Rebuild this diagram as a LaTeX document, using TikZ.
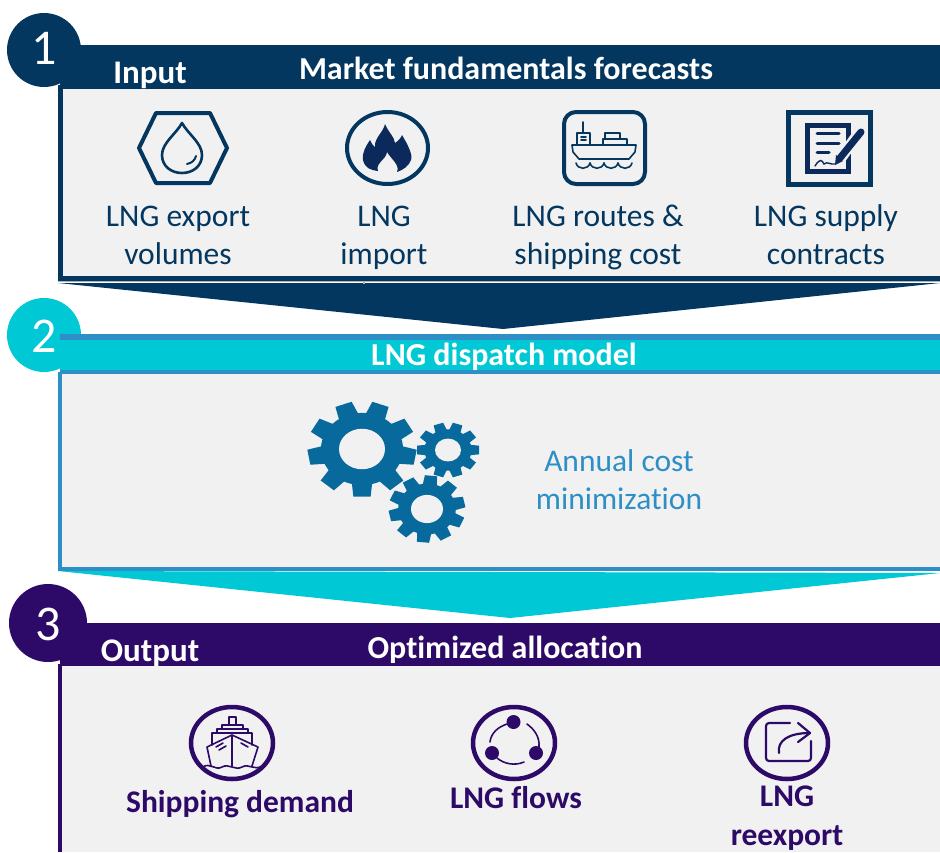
\documentclass[tikz,border=0pt]{standalone}
\usepackage{fontspec}
\setmainfont{Carlito}[Ligatures=NoCommon]
\usepackage{tikz}
\usetikzlibrary{calc, positioning}
\definecolor{navyband}{HTML}{03375F}
\definecolor{flamedark}{HTML}{0B2A5B}
\definecolor{tealband}{HTML}{00C8D4}
\definecolor{blueline}{HTML}{2E8FC6}
\definecolor{gearblue}{HTML}{086A9C}
\definecolor{purpleband}{HTML}{2E0A68}
\definecolor{panelgray}{HTML}{F1F1F1}
% gear: x, y, radius, teeth, start angle, hole radius
\newcommand{\gearicon}[6]{
  \begin{scope}[shift={(#1,#2)}, yscale=0.88]
    \fill[gearblue] (0,0) circle (#3*0.76);
    \foreach \k in {1,...,#4} {
      \fill[gearblue, rotate=#5+\k*360/#4]
        (#3*0.7,-#3*0.19) -- (#3,-#3*0.16) -- (#3,#3*0.16) -- (#3*0.7,#3*0.19) -- cycle;
    }
    \fill[panelgray] (0,0) circle (#6);
  \end{scope}
}
\begin{document}
\begin{tikzpicture}[
    x=1pt, y=-1pt,
    headtext/.style={text=white, font=\fontsize{32}{36}\selectfont\bfseries, inner sep=0pt},
    sidetext/.style={text=white, font=\fontsize{33}{36}\selectfont\bfseries, inner sep=0pt},
    numtext/.style={text=white, font=\fontsize{50}{52}\selectfont, inner sep=0pt},
    inlabel/.style={text=navyband, align=center, inner sep=0pt, font=\fontsize{31.5}{38.5}\selectfont},
    midlabel/.style={text=blueline, align=center, inner sep=0pt, font=\fontsize{31.5}{38.5}\selectfont},
    outlabel/.style={text=purpleband, align=center, inner sep=0pt, font=\fontsize{31.5}{39}\selectfont\bfseries},
    navyicon/.style={draw=navyband, line width=4pt, line join=round},
    purpleicon/.style={draw=purpleband, line width=4.5pt},
    finepurple/.style={draw=purpleband, line width=1.6pt, line cap=round, line join=round}
]
\useasboundingbox (0,0) rectangle (940,852);

% Input band
\fill[panelgray] (60,89) rectangle (940,278);
\fill[navyband] (60,45) rectangle (940,89);
\fill[navyband] (44,50) circle (37);
\draw[navyband, line width=5pt] (60,85) -- (60,278.5) -- (940,278.5);
\fill[navyband] (58,283) -- (503,329) -- (940,283) -- cycle;
\draw[gray!60, line width=1.5pt] (58,281.5) -- (940,281.5) (364,281) -- (364,284);

% Dispatch band
\fill[panelgray] (60,372) rectangle (940,570);
\fill[tealband] (44,335) circle (37);
\fill[tealband] (60,334) rectangle (940,370);
\fill[blueline] (60,334) rectangle (940,340);
\draw[blueline, line width=4pt] (60,372) -- (60,569) -- (940,569) (60,372) -- (940,372);
\fill[tealband] (58,571) -- (510,618) -- (940,573) -- cycle;

% Output band
\fill[panelgray] (60,666) rectangle (940,852);
\fill[purpleband] (60,623) rectangle (940,666);
\fill[purpleband] (48,623) circle (39);
\draw[purpleband, line width=4pt] (60,664) -- (60,852);

% Nodes
\node[numtext] (one) at (44,48) {1};
\node[numtext] (two) at (44,336) {2};
\node[numtext] (three) at (48,624) {3};
\node[sidetext] (input) at (150,75) {Input};
\node[headtext] (market) at (506,68) {Market fundamentals forecasts};
\node[headtext] (dispatch) at (504,357) {LNG dispatch model};
\node[sidetext] (output) at (150,653) {Output};
\node[headtext] (alloc) at (505,649.5) {Optimized allocation};
\node[inlabel] (export) at (178,238) {LNG export\strut\\volumes\strut};
\node[inlabel] (import) at (384,238) {LNG\strut\\import\strut};
\node[inlabel] (routes) at (598,238) {LNG routes \&\strut\\shipping cost\strut};
\node[inlabel] (supply) at (826,238) {LNG supply\strut\\contracts\strut};
\node[midlabel] (annual) at (619,483) {Annual cost\strut\\minimization\strut};
\node[outlabel] (shipping) at (240,804) {Shipping demand};
\node[outlabel] (flows) at (516,798) {LNG flows};
\node[outlabel] (reexport) at (787,818) {LNG\strut\\reexport\strut};

% Hexagon and drop
\draw[navyicon] (139,148) -- (156,113) -- (210,113) -- (227,148) -- (210,183) -- (156,183) -- cycle;
\draw[navyband, line width=2.6pt, line join=round] (182,123)
  .. controls (176,134) and (162,143) .. (162,155)
  .. controls (162,166) and (171,173) .. (182,173)
  .. controls (193,173) and (202,166) .. (202,155)
  .. controls (202,143) and (188,134) .. cycle;
\draw[navyband, line width=2pt, line cap=round] (187,164) .. controls (192,163) and (195,160) .. (196,156);

% Flame
\draw[navyicon] (387.5,148) circle [x radius=40.5, y radius=36];
\fill[flamedark] (385,124) .. controls (390,135) and (394,136) .. (395,143)
  .. controls (398,141) and (401,138) .. (402,135)
  .. controls (408,145) and (413,155) .. (411,160)
  .. controls (409,166) and (403,170) .. (397,172)
  .. controls (400,165) and (392,160) .. (387,152)
  .. controls (386,160) and (375,163) .. (378,171)
  .. controls (370,170) and (365,168) .. (363,160)
  .. controls (362,152) and (366,146) .. (370,140)
  .. controls (372,144) and (373,146) .. (375,147)
  .. controls (374,138) and (383,133) .. (385,124) -- cycle;

% Cargo ship
\draw[navyicon, rounded corners=12pt] (564,112) rectangle (645,184);
\begin{scope}[navyband, line width=1.6pt, line join=round, line cap=round]
  \draw (572,145) -- (636,145) -- (635,152) -- (629,159) -- (579,159) -- (573,152) -- cycle;
  \draw (577,145) -- (577,133) -- (590,133) -- (590,145);
  \draw (583,122) -- (583,133);
  \draw (581,137) -- (586,137) (581,140) -- (586,140);
  \draw (603,145) -- (603,139) -- (627,139) -- (627,145);
  \draw (605,139) -- (605,133) -- (620,133) -- (620,139);
  \foreach \w in {576,590,604,618} {
    \draw (\w,163) .. controls (\w+2,170) and (\w+12,170) .. (\w+14,163);
  }
\end{scope}

% Contract
\draw[navyicon, line width=5pt, line join=miter] (788,112) rectangle (870,184);
\fill[flamedark] (805,123) rectangle (851,174);
\fill[panelgray] (810,128) rectangle (846,169);
\draw[flamedark, line width=3pt, line cap=round] (817,133) -- (839,133) (817,143) -- (839,143) (817,152) -- (829,152);
\draw[panelgray, line width=11pt] (861,130) -- (838,162);
\draw[flamedark, line width=7pt, line cap=round] (861,132) -- (840,158);
\fill[flamedark] (836,155) -- (843,161) -- (835,165) -- cycle;
\draw[flamedark, line width=1.4pt, line cap=round] (815,166) .. controls (820,158) and (822,160) .. (824,164) .. controls (827,161) and (831,165) .. (835,164);

% Gears
\gearicon{362}{449}{54}{9}{-90}{23}
\gearicon{448}{450}{31}{10}{-72}{13}
\gearicon{427}{509}{38}{10}{-96}{16}

% Front view ship
\draw[purpleicon] (232,743) circle [x radius=41, y radius=36];
\begin{scope}[finepurple]
  \draw (229,725) -- (229,717) -- (236,717) -- (236,725);
  \draw (222,729) -- (222,725) -- (243,725) -- (243,729);
  \draw (217,733) -- (217,729) -- (248,729) -- (248,733);
  \draw (212,745) -- (212,733) -- (252,733) -- (252,745);
  \draw (232,735) -- (207,747) -- (211,766) (232,735) -- (258,747) -- (252,766) (232,735) -- (232,766);
  \draw (216,747) -- (223,743) (219,750) -- (226,746) (248,747) -- (241,743);
  \draw (203,767) .. controls (210,762) and (215,771) .. (222,767) .. controls (229,763) and (235,771) .. (242,767) .. controls (249,763) and (254,771) .. (262,766);
\end{scope}

% Network
\draw[purpleicon] (514,743) circle [x radius=41, y radius=36];
\fill[purpleband] (513.5,722) circle (7) (492,753) circle (7) (536,753) circle (7);
\begin{scope}[finepurple]
  \draw (507,724) .. controls (498,727) and (491,733) .. (490,742);
  \draw (527,724) .. controls (534,729) and (540,737) .. (539,747);
  \draw (497,758) .. controls (504,764) and (515,766) .. (524,762);
\end{scope}

% Re-export
\draw[purpleicon] (787,743) circle [x radius=41, y radius=36];
\begin{scope}[finepurple, line width=2.2pt]
  \draw[rounded corners=3pt] (790,723) -- (766,723) -- (766,761) -- (811,761) -- (811,741);
  \draw (798,723) -- (810,733) -- (798,742);
  \draw (779,753) .. controls (777,741) and (788,733) .. (810,733);
\end{scope}

\end{tikzpicture}
\end{document}
